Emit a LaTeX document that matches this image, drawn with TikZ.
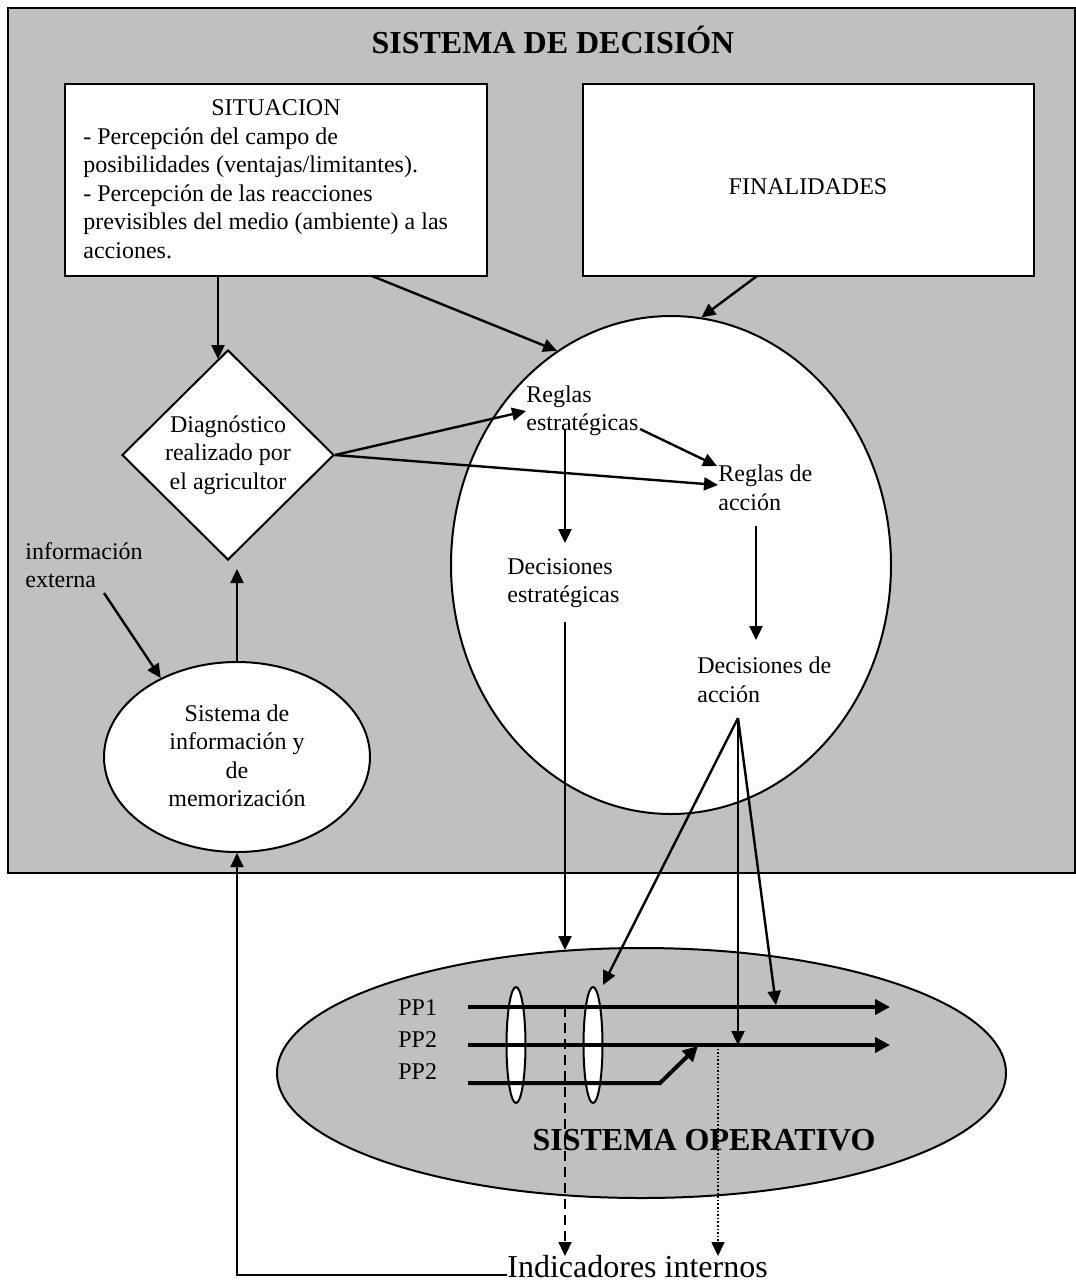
\documentclass[tikz,border=0pt]{standalone}
\usepackage{fontspec}
\setmainfont{Liberation Serif}
\usetikzlibrary{shapes.geometric,arrows.meta}
\definecolor{silver}{RGB}{192,192,192}
\tikzset{
  txt/.style={font=\fontsize{12}{14.25}\selectfont, inner sep=0pt, align=left},
  ctxt/.style={font=\fontsize{12}{14.25}\selectfont, inner sep=0pt, align=center},
  bigtxt/.style={font=\fontsize{16}{19}\selectfont\bfseries, inner sep=0pt},
  tip/.style={-{Triangle[length=7pt,width=6.5pt]}},
  arr/.style={line width=1.2pt, tip},
  bigarr/.style={line width=2pt, line join=miter, -{Triangle[length=7.5pt,width=7.5pt]}},
  wbox/.style={draw, line width=1pt, fill=white, rectangle, inner sep=0pt},
  well/.style={draw, line width=1pt, fill=white, ellipse, inner sep=0pt},
}
\begin{document}
\begin{tikzpicture}[x=0.5pt,y=-0.5pt]
\useasboundingbox (0,0) rectangle (1076,1281);
\fill[white] (0,0) rectangle (1076,1281);
% decision system frame
\node[draw, line width=1.1pt, fill=silver, rectangle, inner sep=0pt, anchor=north west,
      minimum width=533.5pt, minimum height=432.5pt] (dec) at (7,7) {};
\node[bigtxt] (title) at (553,40) {SISTEMA DE DECISIÓN};
% boxes
\node[wbox, minimum width=211pt, minimum height=96pt] (sit) at (276,180) {};
\node[ctxt] (sitT) at (276,108) {SITUACION};
\node[txt, anchor=west] (sitL) at (83,193) {- Percepción del campo de\\posibilidades (ventajas/limitantes).\\- Percepción de las reacciones\\previsibles del medio (ambiente) a las\\acciones.};
\node[wbox, minimum width=225.5pt, minimum height=96pt] (fin) at (808.5,180) {};
\node[ctxt] (finT) at (808,187) {FINALIDADES};
% diamond
\node[diamond, draw, line width=1pt, fill=white, inner sep=0pt, minimum width=106pt, minimum height=105pt] (diag) at (228,455) {};
\node[ctxt] (diagT) at (228,455) {Diagnóstico\\realizado por\\el agricultor};
% rules circle
\node[well, minimum width=220pt, minimum height=249pt] (rules) at (671,565) {};
\node[txt, anchor=west] (rE) at (526,411) {Reglas\\estratégicas};
\node[txt, anchor=west] (rA) at (718,488) {Reglas de\\acción};
\node[txt, anchor=west] (dE) at (507,583) {Decisiones\\estratégicas};
\node[txt, anchor=west] (dA) at (697,680) {Decisiones de\\acción};
% memory ellipse
\node[well, minimum width=133pt, minimum height=95pt] (mem) at (237,757) {};
\node[ctxt] (memT) at (237,756) {Sistema de\\información y\\de\\memorización};
\node[txt, anchor=west] (ext) at (25,565) {información\\externa};
% coordinates
\coordinate (sitD) at (218,276);
\coordinate (sitR) at (372,276);
\coordinate (finD) at (757,276);
\coordinate (rEo) at (640,429);
\coordinate (rAi) at (717,466);
\coordinate (rEd) at (565,430);
\coordinate (dEi) at (565,543);
\coordinate (rAd) at (756,526);
\coordinate (dAi) at (756,640);
\coordinate (dEd) at (565,622);
\coordinate (fan) at (738,718);
\coordinate (extO) at (104,593);
\coordinate (memU) at (237,662);
\coordinate (diagB) at (237,569);
% arrows inside
\draw[arr] (sitD) -- ([xshift=-5pt,yshift=-5pt]diag.north);
\draw[arr] (sitR) -- (rules.118);
\draw[arr] (finD) -- (rules.83);
\draw[arr] (diag.east) -- (rE.west);
\draw[arr] (diag.east) -- ([yshift=1.5pt]rA.west);
\draw[arr] (rEo) -- (rAi);
\draw[arr] (rEd) -- (dEi);
\draw[arr] (rAd) -- (dAi);
\draw[arr] (extO) -- (mem.134);
\draw[arr] (memU) -- (diagB);
% operative system
\node[draw, line width=1pt, fill=silver, ellipse, inner sep=0pt, minimum width=364.5pt, minimum height=125pt] (op) at (641.5,1073) {};
\node[well, minimum width=9.5pt, minimum height=58pt] (g1) at (516,1045) {};
\node[well, minimum width=9.5pt, minimum height=58pt] (g2) at (593,1045) {};
\coordinate (p1a) at (468,1007); \coordinate (p1b) at (890,1007);
\coordinate (p2a) at (468,1045); \coordinate (p2b) at (890,1045);
\coordinate (p3a) at (468,1083); \coordinate (p3k) at (660,1083); \coordinate (p3b) at (698,1046);
\draw[bigarr] (p1a) -- (p1b);
\draw[bigarr] (p2a) -- (p2b);
\draw[bigarr] (p3a) -- (p3k) -- (p3b);
\node[txt, anchor=west] (pp1) at (398,1008) {PP1};
\node[txt, anchor=west] (pp2) at (398,1040) {PP2};
\node[txt, anchor=west] (pp3) at (398,1072) {PP2};
\node[bigtxt] (opT) at (704,1140) {SISTEMA OPERATIVO};
% decision arrows to operative system
\coordinate (opIn) at (565,950);
\coordinate (g2In) at (603,985);
\coordinate (pp2In) at (738,1045);
\coordinate (pp1In) at (776,1005);
\draw[arr] (dEd) -- (opIn);
\draw[arr] (fan) -- (g2In);
\draw[arr] (fan) -- (pp2In);
\draw[arr] (fan) -- (pp1In);
% indicators
\node[font=\fontsize{16}{19}\selectfont, inner sep=0pt, anchor=base west] (ind) at (507,1277) {Indicadores internos};
\coordinate (dashS) at (565,1007);
\coordinate (dotS) at (718,1045);
\draw[line width=1.1pt, dash pattern=on 5pt off 3pt, tip] (dashS) -- (dashS |- 0,1256);
\draw[line width=0.8pt, dash pattern=on 0.8pt off 1pt, tip] (dotS) -- (dotS |- 0,1256);
\draw[line width=0.9pt, tip] ([yshift=1pt]ind.base west) -- (mem.south |- 0,1275) -- (mem.south);
\end{tikzpicture}
\end{document}
